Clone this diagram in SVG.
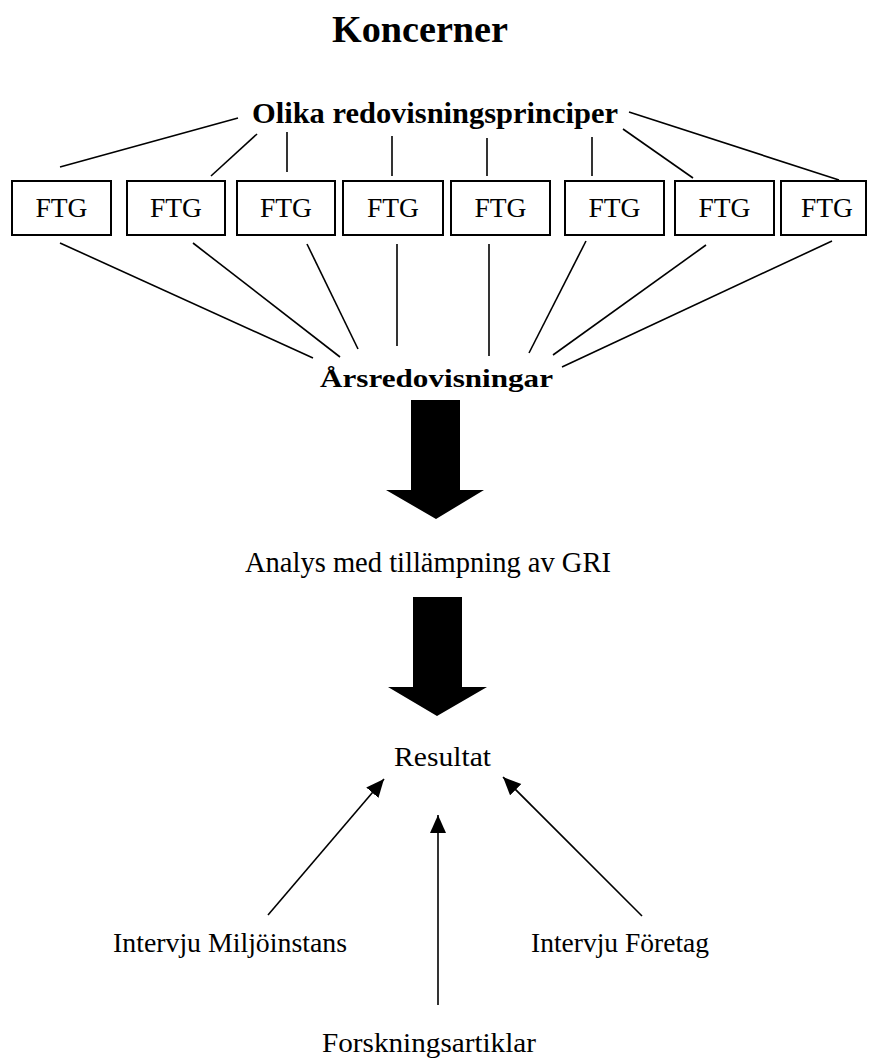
<svg xmlns="http://www.w3.org/2000/svg" width="869" height="1062" viewBox="0 0 869 1062">
<style>
text{font-family:"Liberation Serif","Times New Roman",serif;fill:#000}
.b{font-weight:bold}
.box rect{fill:#fff;stroke:#000;stroke-width:2}
.box text{font-size:28px;text-anchor:middle}
.ln line{stroke:#000;stroke-width:1.6;fill:none}
.arr line{stroke:#000;stroke-width:1.6;marker-end:url(#ah)}
.big{fill:#000}
</style>
<defs>
<marker id="ah" markerUnits="userSpaceOnUse" markerWidth="20" markerHeight="18" refX="18" refY="8" orient="auto">
<path d="M0,0 L18,8 L0,16 z" fill="#000"/>
</marker>
</defs>
<rect width="869" height="1062" fill="#fff"/>
<g id="title"><text class="b" x="332" y="42" font-size="38" textLength="176" lengthAdjust="spacingAndGlyphs">Koncerner</text></g>
<g id="principer"><text class="b" x="252" y="123" font-size="30" textLength="366" lengthAdjust="spacingAndGlyphs">Olika redovisningsprinciper</text></g>
<g id="ftg1" class="box"><rect x="12" y="181" width="99" height="54"/><text x="61.5" y="217" textLength="52" lengthAdjust="spacingAndGlyphs">FTG</text></g>
<g id="ftg2" class="box"><rect x="127" y="181" width="98" height="54"/><text x="176" y="217" textLength="52" lengthAdjust="spacingAndGlyphs">FTG</text></g>
<g id="ftg3" class="box"><rect x="237" y="181" width="98" height="54"/><text x="286" y="217" textLength="52" lengthAdjust="spacingAndGlyphs">FTG</text></g>
<g id="ftg4" class="box"><rect x="343" y="181" width="100" height="54"/><text x="393" y="217" textLength="52" lengthAdjust="spacingAndGlyphs">FTG</text></g>
<g id="ftg5" class="box"><rect x="451" y="181" width="99" height="54"/><text x="500.5" y="217" textLength="52" lengthAdjust="spacingAndGlyphs">FTG</text></g>
<g id="ftg6" class="box"><rect x="565" y="181" width="99" height="54"/><text x="614.5" y="217" textLength="52" lengthAdjust="spacingAndGlyphs">FTG</text></g>
<g id="ftg7" class="box"><rect x="675" y="181" width="99" height="54"/><text x="724.5" y="217" textLength="52" lengthAdjust="spacingAndGlyphs">FTG</text></g>
<g id="ftg8" class="box"><rect x="781" y="181" width="85" height="54"/><text x="827" y="217" textLength="52" lengthAdjust="spacingAndGlyphs">FTG</text></g>
<g id="arsred"><text class="b" x="320" y="387" font-size="26" textLength="233" lengthAdjust="spacingAndGlyphs">Årsredovisningar</text></g>
<g id="analys"><text x="245" y="572" font-size="28.5" textLength="366" lengthAdjust="spacingAndGlyphs">Analys med tillämpning av GRI</text></g>
<g id="resultat"><text x="394" y="766" font-size="28" textLength="97" lengthAdjust="spacingAndGlyphs">Resultat</text></g>
<g id="miljo"><text x="113" y="952" font-size="28" textLength="234" lengthAdjust="spacingAndGlyphs">Intervju Miljöinstans</text></g>
<g id="foretag"><text x="531" y="952" font-size="28" textLength="178" lengthAdjust="spacingAndGlyphs">Intervju Företag</text></g>
<g id="forskning"><text x="322" y="1052" font-size="28" textLength="214" lengthAdjust="spacingAndGlyphs">Forskningsartiklar</text></g>
<g id="connectors">
<g class="ln">
<line x1="238" y1="118" x2="60" y2="167"/>
<line x1="257" y1="134" x2="211" y2="176"/>
<line x1="287" y1="132" x2="287" y2="172"/>
<line x1="392" y1="136" x2="392" y2="176"/>
<line x1="487" y1="138" x2="487" y2="176"/>
<line x1="592" y1="137" x2="592" y2="176"/>
<line x1="623" y1="129" x2="693" y2="178"/>
<line x1="629" y1="112" x2="839" y2="180"/>
<line x1="60" y1="243" x2="313" y2="358"/>
<line x1="193" y1="243" x2="340" y2="357"/>
<line x1="307" y1="244" x2="358" y2="349"/>
<line x1="397" y1="244" x2="397" y2="346"/>
<line x1="489" y1="244" x2="489" y2="356"/>
<line x1="586" y1="241" x2="529" y2="353"/>
<line x1="706" y1="245" x2="553" y2="355"/>
<line x1="832" y1="241" x2="562" y2="367"/>
</g>
<polygon class="big" points="411,400 460,400 460,490 484,490 436,519 386,490 411,490"/>
<polygon class="big" points="413,597 462,597 462,687 487,687 437,716 388,687 413,687"/>
<g class="arr">
<line x1="268" y1="915" x2="384" y2="779"/>
<line x1="438" y1="1005" x2="438" y2="815"/>
<line x1="642" y1="916" x2="503" y2="777"/>
</g>
</g>
</svg>
